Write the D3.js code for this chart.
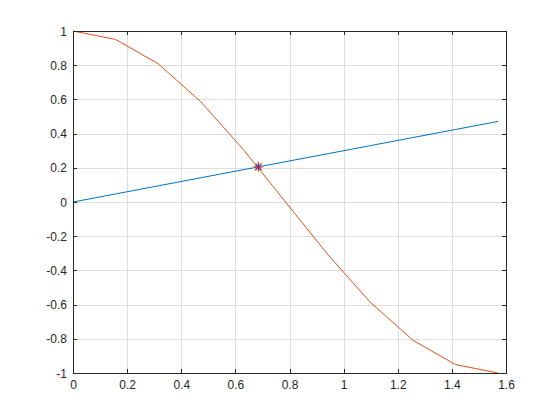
<!DOCTYPE html>
<html><head><meta charset="utf-8">
<script src="https://cdn.jsdelivr.net/npm/d3@7"></script>
<style>body{margin:0;background:#fff}svg{display:block}text{font-family:"Liberation Sans",Arial,sans-serif}</style>
</head><body>
<script>
const xValues = [0, 0.1571, 0.3142, 0.4712, 0.6283, 0.7854, 0.9425, 1.0996, 1.2566, 1.4137, 1.5708];
const lineValues = [0, 0.0471, 0.0942, 0.1414, 0.1885, 0.2356, 0.2827, 0.3299, 0.3770, 0.4241, 0.4712];
const curveValues = [1, 0.951, 0.809, 0.588, 0.309, 0, -0.309, -0.588, -0.809, -0.951, -1];
const crossPoint = [0.6849, 0.2055];
const xTicks = [0, 0.2, 0.4, 0.6, 0.8, 1, 1.2, 1.4, 1.6];
const yTicks = [-1, -0.8, -0.6, -0.4, -0.2, 0, 0.2, 0.4, 0.6, 0.8, 1];

const W = 560, H = 420;
const L = 73, R = 506, T = 31, B = 373;
const svg = d3.select("body").append("svg").attr("width", W).attr("height", H);
const x = d3.scaleLinear().domain([0, 1.6]).range([L, R]);
const y = d3.scaleLinear().domain([-1, 1]).range([B, T]);

// grid
const g = svg.append("g").attr("shape-rendering", "crispEdges");
g.selectAll(".gx").data(xTicks).enter().append("line")
  .attr("x1", d => Math.round(x(d)) + 0.5).attr("x2", d => Math.round(x(d)) + 0.5)
  .attr("y1", T).attr("y2", B).attr("stroke", "#dedede");
g.selectAll(".gy").data(yTicks).enter().append("line")
  .attr("y1", d => Math.round(y(d)) + 0.5).attr("y2", d => Math.round(y(d)) + 0.5)
  .attr("x1", L).attr("x2", R).attr("stroke", "#dedede");

// lines
const line = d3.line().x(d => x(d[0])).y(d => y(d[1]));
svg.append("path").datum(xValues.map((v, i) => [v, lineValues[i]]))
  .attr("d", line).attr("fill", "none").attr("stroke", "#0072bd").attr("stroke-width", 1);
svg.append("path").datum(xValues.map((v, i) => [v, curveValues[i]]))
  .attr("d", line).attr("fill", "none").attr("stroke", "#d95319").attr("stroke-width", 1);

// marker
function star(cx, cy, r, color, w) {
  const m = svg.append("g").attr("stroke", color).attr("stroke-width", w);
  m.append("line").attr("x1", cx - r).attr("x2", cx + r).attr("y1", cy).attr("y2", cy);
  m.append("line").attr("x1", cx).attr("x2", cx).attr("y1", cy - r).attr("y2", cy + r);
  const d = r * 0.72;
  m.append("line").attr("x1", cx - d).attr("x2", cx + d).attr("y1", cy - d).attr("y2", cy + d);
  m.append("line").attr("x1", cx - d).attr("x2", cx + d).attr("y1", cy + d).attr("y2", cy - d);
}
star(x(crossPoint[0]), y(crossPoint[1]), 5.5, "#edb120", 1.2);
star(x(crossPoint[0]), y(crossPoint[1]), 4, "#7e2f8e", 1.2);

// axes box and ticks
const a = svg.append("g").attr("shape-rendering", "crispEdges").attr("stroke", "#262626");
a.append("rect").attr("x", L + 0.5).attr("y", T + 0.5).attr("width", R - L).attr("height", B - T)
  .attr("fill", "none");
xTicks.forEach(d => {
  const px = Math.round(x(d)) + 0.5;
  a.append("line").attr("x1", px).attr("x2", px).attr("y1", B).attr("y2", B - 4);
  a.append("line").attr("x1", px).attr("x2", px).attr("y1", T).attr("y2", T + 4);
});
yTicks.forEach(d => {
  const py = Math.round(y(d)) + 0.5;
  a.append("line").attr("x1", L).attr("x2", L + 4).attr("y1", py).attr("y2", py);
  a.append("line").attr("x1", R).attr("x2", R - 4).attr("y1", py).attr("y2", py);
});

// labels
svg.selectAll(".xl").data(xTicks).enter().append("text")
  .attr("x", d => x(d) + 0.5).attr("y", B + 16).attr("text-anchor", "middle")
  .attr("font-size", 12).attr("fill", "#262626").text(d => String(d));
svg.selectAll(".yl").data(yTicks).enter().append("text")
  .attr("x", L - 6).attr("y", d => y(d) + 4.5).attr("text-anchor", "end")
  .attr("font-size", 12).attr("fill", "#262626").text(d => String(d));
</script>
</body></html>
